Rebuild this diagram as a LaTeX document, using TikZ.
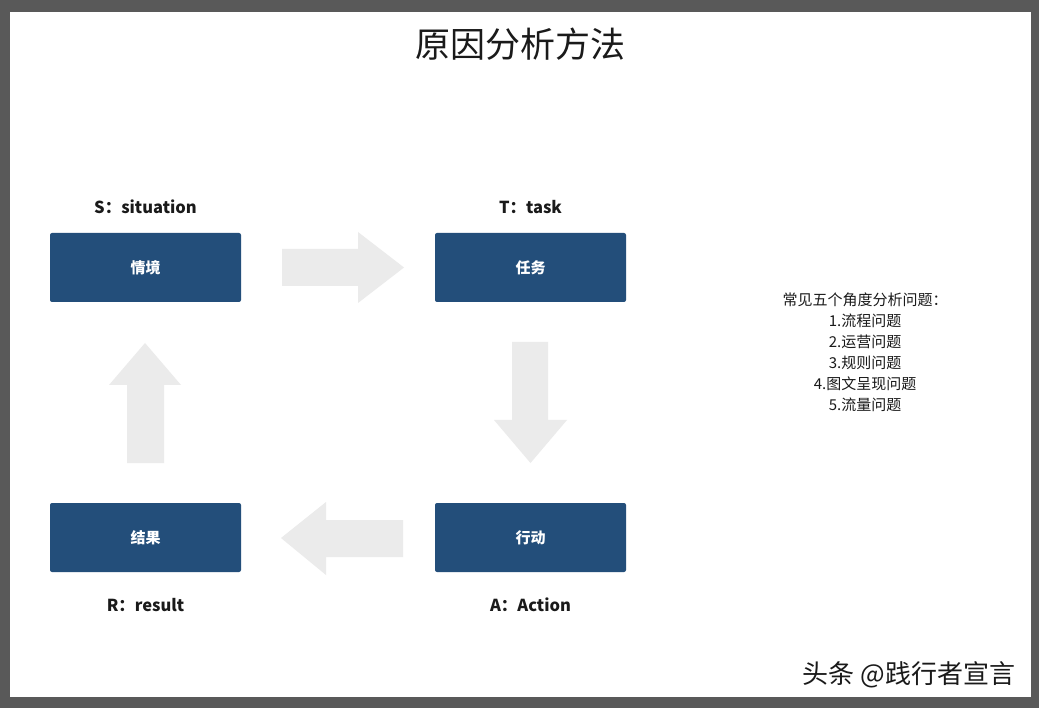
\documentclass[tikz,border=0pt]{standalone}
\usepackage{fontspec}
\newfontfamily\cjk{Noto Sans CJK SC}
\definecolor{boxblue}{HTML}{234E7A}
\definecolor{arrowgray}{HTML}{EBEBEB}
\definecolor{framegray}{HTML}{595959}
\definecolor{inkgray}{HTML}{1A1A1A}
\begin{document}
\begin{tikzpicture}[x=1pt,y=-1pt,
    stage/.style={fill=boxblue, rounded corners=2pt, minimum width=191pt,
      minimum height=69pt, text=white, font=\cjk\bfseries\fontsize{15}{17}\selectfont},
    tag/.style={text=inkgray, font=\cjk\bfseries\fontsize{16.5}{20}\selectfont},
    flow/.style={fill=arrowgray}]
  % frame
  \fill[framegray] (0,0) rectangle (1039,708);
  \fill[white] (10,12) rectangle (1031,697);
  \node[text=inkgray, font=\cjk\fontsize{35}{40}\selectfont] (title) at (520,44) {原因分析方法};
  % four stages
  \draw
    (145.5,267.5) node[stage] (s) {情境}
    (530.5,267.5) node[stage] (t) {任务}
    (530.5,537.5) node[stage] (a) {行动}
    (145.5,537.5) node[stage] (r) {结果};
  \node[tag] (sl) at (145.5,207) {S：situation};
  \node[tag] (tl) at (530.5,207) {T：task};
  \node[tag] (al) at (530.5,605) {A：Action};
  \node[tag] (rl) at (145.5,605) {R：result};
  % block arrows
  \begin{scope}[flow]
    \fill (282,249) -- (358,249) -- (358,232) -- (404,267.5) -- (358,303) -- (358,286) -- (282,286) -- cycle;
    \fill (512,342) -- (548,342) -- (548,420) -- (567,420) -- (530.5,463) -- (494,420) -- (512,420) -- cycle;
    \fill (403,520) -- (326,520) -- (326,502) -- (281,538) -- (326,575) -- (326,557) -- (403,557) -- cycle;
    \fill (127,463) -- (127,385) -- (109,385) -- (145,343) -- (181,385) -- (164,385) -- (164,463) -- cycle;
  \end{scope}
  % notes
  \node[text=inkgray, align=center, font=\cjk\fontsize{15}{21}\selectfont] (note) at (865,352.5)
    {常见五个角度分析问题：\\1.流程问题\\2.运营问题\\3.规则问题\\4.图文呈现问题\\5.流量问题};
  \node[text=inkgray, font=\cjk\fontsize{26}{30}\selectfont] (mark) at (909,675) {头条 @践行者宣言};
\end{tikzpicture}
\end{document}
